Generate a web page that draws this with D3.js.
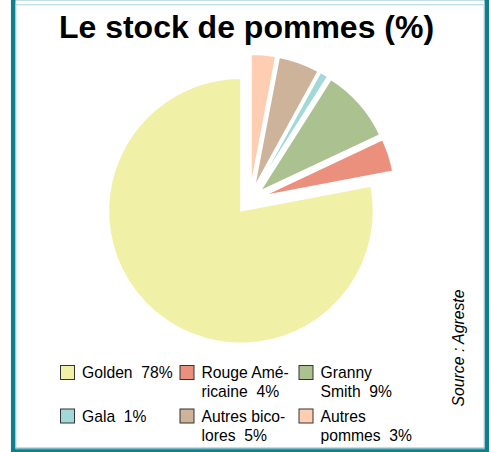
<!DOCTYPE html>
<html lang="fr">
<head>
<meta charset="UTF-8">
<title>Le stock de pommes (%)</title>
<style>
  body { margin: 0; background: #fff; }
  svg { display: block; font-family: 'Liberation Sans', Arial, sans-serif; }
  text { white-space: pre; }
</style>
</head>
<body>
<svg width="491" height="452"></svg>
<script src="https://cdn.jsdelivr.net/npm/d3@7/dist/d3.min.js"></script>
<script>
// Data (legend order; pie runs counter-clockwise from 12 o'clock in this order)
const varieties = ['Golden', 'Rouge Américaine', 'Granny Smith', 'Gala', 'Autres bicolores', 'Autres pommes'];
const shares = [78, 4, 9, 1, 5, 3];
const legendLines = [
  ['Golden  78%'],
  ['Rouge Amé-', 'ricaine  4%'],
  ['Granny', 'Smith  9%'],
  ['Gala  1%'],
  ['Autres bico-', 'lores  5%'],
  ['Autres', 'pommes  3%']
];
const colors = ['#f1f0a7', '#ec907e', '#abc290', '#a2d9d8', '#cdb399', '#fecdb2'];

const svg = d3.select('svg');

// Frame
svg.append('rect')
  .attr('x', 13.2).attr('y', -2).attr('width', 473.6).attr('height', 452)
  .attr('fill', 'none').attr('stroke', '#0f7f8e').attr('stroke-width', 4.5);
svg.append('rect')
  .attr('x', 15.9).attr('y', 4.8).attr('width', 468.2).attr('height', 444)
  .attr('fill', 'none').attr('stroke', '#a9d3da').attr('stroke-width', 1);

// Title
svg.append('text')
  .attr('x', 246.5).attr('y', 38)
  .attr('text-anchor', 'middle')
  .attr('font-size', 32).attr('font-weight', 'bold').attr('fill', '#000')
  .text('Le stock de pommes (%)');

// Pie, every slice pulled out along its bisector
const cx = 249.7, cy = 200.3, radius = 132.5, explode = 13.7;
const pie = d3.pie().sort(null).startAngle(0).endAngle(-2 * Math.PI);
const arc = d3.arc().innerRadius(0).outerRadius(radius);
const arcs = pie(shares);

svg.append('g')
  .attr('transform', `translate(${cx},${cy})`)
  .selectAll('path')
  .data(arcs)
  .join('path')
  .attr('d', arc)
  .attr('transform', d => {
    const mid = (d.startAngle + d.endAngle) / 2;
    return `translate(${explode * Math.sin(mid)},${-explode * Math.cos(mid)})`;
  })
  .attr('fill', (d, i) => colors[i])
  .attr('stroke', '#fff')
  .attr('stroke-width', 1.5)
  .attr('stroke-linejoin', 'round');

// Legend
const colX = d3.scaleOrdinal().domain([0, 1, 2]).range([60, 179.5, 298.5]);
const rowY = d3.scaleOrdinal().domain([0, 1]).range([365, 408.5]);

const items = svg.append('g')
  .selectAll('g')
  .data(varieties)
  .join('g')
  .attr('transform', (d, i) => `translate(${colX(i % 3)},${rowY(Math.floor(i / 3))})`);

items.append('rect')
  .attr('x', 0.5).attr('y', 0.5).attr('width', 14).attr('height', 14)
  .attr('fill', (d, i) => colors[i])
  .attr('stroke', '#333').attr('stroke-width', 1);

items.each(function (d, i) {
  d3.select(this).selectAll('text')
    .data(legendLines[i])
    .join('text')
    .attr('x', 22)
    .attr('y', (t, j) => 13 + j * 19)
    .attr('font-size', 15.7).attr('fill', '#000')
    .text(t => t);
});

// Source
svg.append('text')
  .attr('transform', 'translate(464,348) rotate(-90)')
  .attr('text-anchor', 'middle')
  .attr('font-size', 15.8).attr('font-style', 'italic').attr('fill', '#000')
  .text('Source : Agreste');
</script>
</body>
</html>
